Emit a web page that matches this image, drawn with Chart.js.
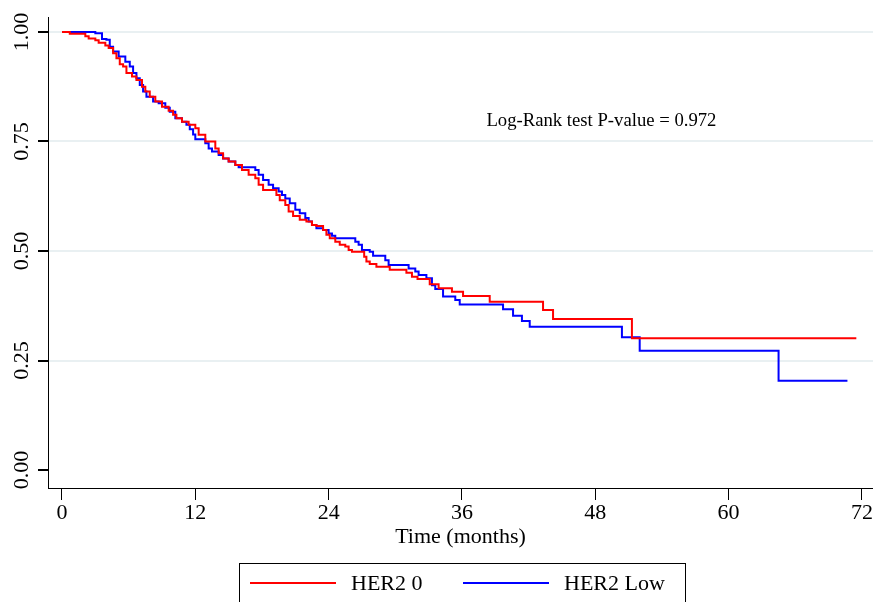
<!DOCTYPE html>
<html>
<head>
<meta charset="utf-8">
<script src="https://cdn.jsdelivr.net/npm/chart.js@4/dist/chart.umd.min.js"></script>
<style>
  body { margin: 0; background: #fff; }
  #wrap { width: 873px; height: 602px; }
</style>
</head>
<body>
<div id="wrap"><canvas id="km" width="873" height="602"></canvas></div>
<script>
// Kaplan-Meier steps (time in months, survival after the step)
var her2ZeroTime = [0, 0.7, 2.1, 2.4, 3.0, 3.3, 3.9, 4.2, 4.6, 4.9, 5.2, 5.5, 5.8, 6.3, 6.7, 7.2, 7.5, 7.9, 8.4, 9.0,
    9.6, 10.0, 10.3, 10.8, 11.4, 12.0, 12.3, 12.9, 13.8, 14.1, 14.5, 15.0, 15.6, 16.2, 16.8, 17.4, 17.7, 18.1, 19.3, 19.6,
    20.1, 20.4, 20.8, 21.4, 22.0, 22.5, 22.9, 23.5, 23.8, 24.1, 24.6, 25.0, 25.5, 25.8, 26.1, 27.2, 27.4, 27.7, 28.3, 29.5,
    31.0, 31.5, 32.0, 33.1, 33.9, 35.1, 36.1, 38.5, 43.3, 44.2, 51.3, 71.5];
var her2ZeroSurv = [1.000, 0.996, 0.990, 0.985, 0.981, 0.975, 0.969, 0.963, 0.951, 0.940, 0.926, 0.921, 0.906, 0.898, 0.890, 0.875, 0.864, 0.852, 0.841, 0.829,
    0.820, 0.811, 0.803, 0.795, 0.788, 0.780, 0.765, 0.750, 0.734, 0.723, 0.711, 0.704, 0.696, 0.685, 0.674, 0.666, 0.651, 0.639, 0.628, 0.616,
    0.605, 0.590, 0.580, 0.571, 0.567, 0.559, 0.557, 0.548, 0.537, 0.529, 0.521, 0.514, 0.510, 0.502, 0.498, 0.487, 0.476, 0.470, 0.464, 0.457,
    0.450, 0.441, 0.436, 0.424, 0.415, 0.407, 0.397, 0.384, 0.365, 0.345, 0.301, 0.301];

var her2LowTime = [0, 3.0, 3.6, 4.0, 4.3, 4.6, 5.1, 5.7, 6.1, 6.4, 6.7, 7.0, 7.3, 7.6, 8.2, 8.7, 9.3, 9.7, 10.2, 10.8,
    11.2, 11.5, 11.8, 12.0, 12.9, 13.2, 13.5, 14.1, 14.5, 15.0, 15.6, 15.9, 17.4, 17.7, 18.1, 18.6, 19.0, 19.5, 19.8, 20.1,
    20.5, 21.0, 21.4, 21.9, 22.2, 22.5, 22.9, 23.5, 24.0, 24.3, 24.6, 26.4, 26.7, 27.0, 27.7, 28.0, 29.1, 29.4, 31.2, 31.8,
    32.1, 32.8, 33.3, 33.6, 34.3, 35.4, 35.8, 39.7, 40.6, 41.4, 42.1, 50.4, 52.0, 64.5, 70.7];
var her2LowSurv = [1.000, 0.997, 0.984, 0.982, 0.966, 0.955, 0.944, 0.932, 0.921, 0.906, 0.894, 0.879, 0.864, 0.852, 0.841, 0.837, 0.827, 0.818, 0.803, 0.795,
    0.788, 0.778, 0.766, 0.755, 0.746, 0.734, 0.727, 0.719, 0.711, 0.704, 0.696, 0.691, 0.685, 0.674, 0.662, 0.651, 0.643, 0.636, 0.628, 0.620,
    0.609, 0.594, 0.586, 0.575, 0.567, 0.559, 0.552, 0.548, 0.540, 0.535, 0.529, 0.521, 0.514, 0.502, 0.498, 0.489, 0.479, 0.468, 0.460, 0.453,
    0.445, 0.438, 0.422, 0.413, 0.396, 0.388, 0.378, 0.367, 0.352, 0.340, 0.327, 0.303, 0.272, 0.204, 0.204];

var seriesLabels = ['HER2 0', 'HER2 Low'];
var seriesColors = ['#ff0000', '#0000ff'];
var xTicks = [0, 12, 24, 36, 48, 60, 72];
var yTicks = [0, 0.25, 0.5, 0.75, 1];
var xTitle = 'Time (months)';
var pValueText = 'Log-Rank test P-value = 0.972';

var serif = "'Liberation Serif', 'Times New Roman', serif";

function toPoints(times, surv) {
    var pts = [];
    for (var i = 0; i < times.length; i++) {
        pts.push({ x: times[i], y: surv[i] });
    }
    return pts;
}

// p-value note and the boxed legend under the axis
var extrasPlugin = {
    id: 'extras',
    afterDraw: function (chart) {
        var ctx = chart.ctx;
        var xs = chart.scales.x, ys = chart.scales.y;
        ctx.save();
        ctx.fillStyle = '#000';
        ctx.font = '18.7px ' + serif;
        ctx.textAlign = 'left';
        ctx.textBaseline = 'middle';
        ctx.fillText(pValueText, xs.getPixelForValue(38.2), ys.getPixelForValue(0.797));

        // legend box (runs off the bottom edge, like the source)
        ctx.strokeStyle = '#000';
        ctx.lineWidth = 1;
        ctx.strokeRect(239.5, 563.5, 446, 60);
        var starts = [250, 463];
        ctx.font = '22px ' + serif;
        chart.data.datasets.forEach(function (ds, i) {
            ctx.strokeStyle = ds.borderColor;
            ctx.lineWidth = 2;
            ctx.beginPath();
            ctx.moveTo(starts[i], 583);
            ctx.lineTo(starts[i] + 86, 583);
            ctx.stroke();
            ctx.fillStyle = '#000';
            ctx.fillText(ds.label, starts[i] + 101, 584);
        });
        ctx.restore();
    }
};

var chartData = {
    datasets: [
        { label: seriesLabels[0], data: toPoints(her2ZeroTime, her2ZeroSurv), borderColor: seriesColors[0] },
        { label: seriesLabels[1], data: toPoints(her2LowTime, her2LowSurv), borderColor: seriesColors[1] }
    ]
};

new Chart(document.getElementById('km'), {
    type: 'line',
    data: chartData,
    plugins: [extrasPlugin],
    options: {
        responsive: false,
        animation: false,
        devicePixelRatio: 1,
        layout: { padding: { top: 17, left: 0, right: 0, bottom: 0 } },
        elements: {
            line: { stepped: true, borderWidth: 2, fill: false, tension: 0 },
            point: { radius: 0, hoverRadius: 0 }
        },
        plugins: {
            legend: { display: false },
            tooltip: { enabled: false }
        },
        scales: {
            x: {
                type: 'linear',
                min: -1.26,
                max: 73.0,
                afterBuildTicks: function (scale) {
                    scale.ticks = xTicks.map(function (v) { return { value: v }; });
                },
                afterFit: function (scale) { scale.height = 114; },
                grid: { drawOnChartArea: false, drawTicks: true, tickLength: 12, tickColor: '#000' },
                border: { display: true, color: '#000', width: 1 },
                ticks: { color: '#000', font: { family: serif, size: 22 }, padding: 0, maxRotation: 0 },
                title: { display: true, text: xTitle, color: '#000', font: { family: serif, size: 22 }, padding: { top: 0, bottom: 52 } }
            },
            y: {
                type: 'linear',
                min: -0.041,
                max: 1.034,
                afterBuildTicks: function (scale) {
                    scale.ticks = yTicks.map(function (v) { return { value: v }; });
                },
                afterFit: function (scale) { scale.width = 48; },
                grid: {
                    color: function (c) { return c.tick && c.tick.value === 0 ? 'rgba(0,0,0,0)' : '#e9f0f2'; },
                    lineWidth: 2,
                    tickLength: 10,
                    tickColor: '#000'
                },
                border: { display: true, color: '#000', width: 1 },
                ticks: {
                    color: '#000',
                    font: { family: serif, size: 22 },
                    minRotation: 90,
                    maxRotation: 90,
                    crossAlign: 'center',
                    padding: -3,
                    callback: function (v) { return Number(v).toFixed(2); }
                }
            }
        }
    }
});
</script>
</body>
</html>
